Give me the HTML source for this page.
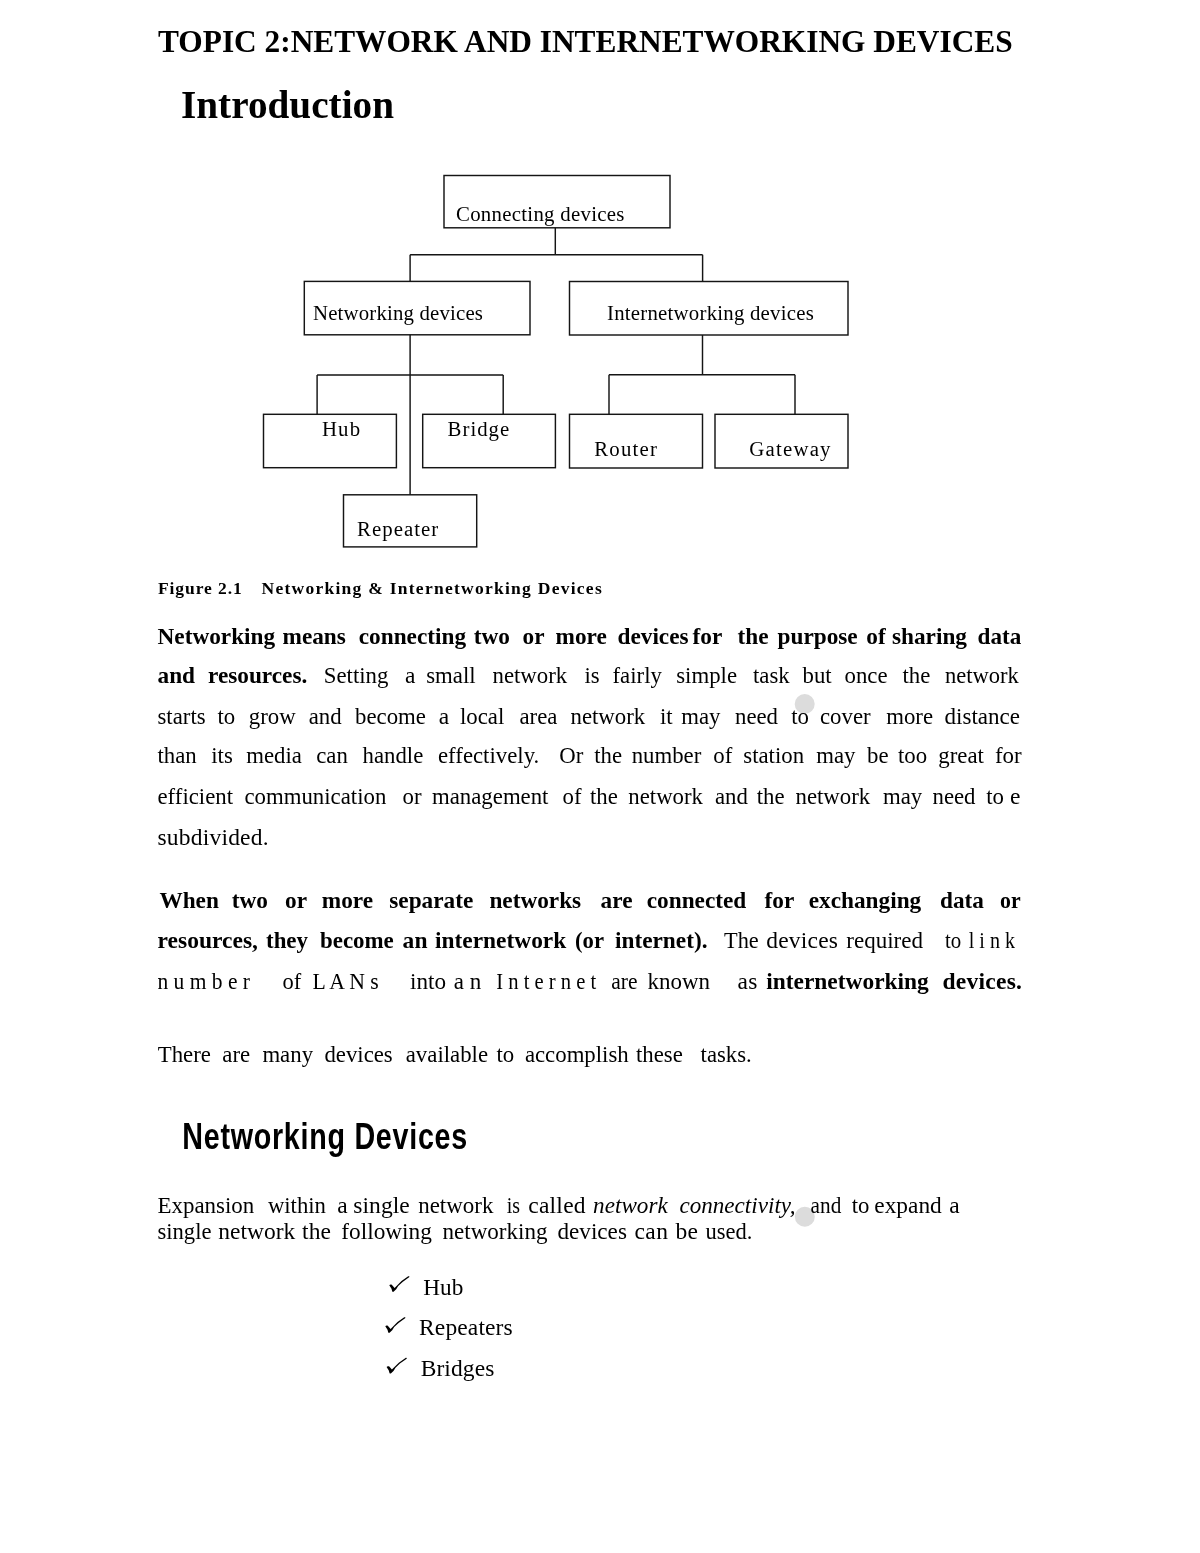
<!DOCTYPE html>
<html><head><meta charset="utf-8"><style>
html,body{margin:0;padding:0;background:#fff;}
body{width:1200px;height:1553px;overflow:hidden;position:relative;}
svg{position:absolute;left:0;top:0;will-change:transform;}
text{font-family:"Liberation Serif",serif;fill:#000;}
</style></head><body>
<svg width="1200" height="1553" viewBox="0 0 1200 1553">
<g fill="none" stroke="#151515" stroke-width="1.45">
<rect x="444" y="175.5" width="226" height="52.3"/>
<rect x="304.3" y="281.4" width="225.7" height="53.4"/>
<rect x="569.5" y="281.5" width="278.5" height="53.5"/>
<rect x="263.5" y="414.3" width="132.9" height="53.4"/>
<rect x="422.7" y="414.3" width="132.7" height="53.4"/>
<rect x="569.5" y="414.3" width="133" height="53.7"/>
<rect x="715" y="414.3" width="133" height="53.7"/>
<rect x="343.5" y="494.8" width="133.2" height="52.1"/>
<path d="M555.3 227.8V254.8M410.1 254.8H702.6M410.1 254.8V281.4M702.6 254.8V281.5
M410.1 334.8V494.8M317.1 374.9H503.2M317.1 374.9V414.3M503.2 374.9V414.3
M702.5 335V374.8M609 374.8H795M609 374.8V414.3M795 374.8V414.3"/>
</g>
<g fill="#dcdcdc"><circle cx="804.7" cy="704" r="10"/><circle cx="804.8" cy="1216.8" r="10"/></g>
<path transform="translate(385,1270)" d="M4.3 15.2C4.8 14.4 6.2 14.2 7 14.9L9.6 17.9L16.5 11L23.2 6.3C23.8 5.9 24.7 6.3 24.4 7L17.6 11.9L13.2 16L11.2 19.2L8.8 21.6C8.2 22.1 7.3 21.9 7.2 21.3L6.5 18.8Z"/>
<path transform="translate(381,1311)" d="M4.3 15.2C4.8 14.4 6.2 14.2 7 14.9L9.6 17.9L16.5 11L23.2 6.3C23.8 5.9 24.7 6.3 24.4 7L17.6 11.9L13.2 16L11.2 19.2L8.8 21.6C8.2 22.1 7.3 21.9 7.2 21.3L6.5 18.8Z"/>
<path transform="translate(382.3,1351.7)" d="M4.3 15.2C4.8 14.4 6.2 14.2 7 14.9L9.6 17.9L16.5 11L23.2 6.3C23.8 5.9 24.7 6.3 24.4 7L17.6 11.9L13.2 16L11.2 19.2L8.8 21.6C8.2 22.1 7.3 21.9 7.2 21.3L6.5 18.8Z"/>
<g>
<text x="158.00" y="52.00" font-size="31.4" font-weight="bold" textLength="854.69" lengthAdjust="spacingAndGlyphs">TOPIC 2:NETWORK AND INTERNETWORKING DEVICES</text>
<text x="181.00" y="118.30" font-size="39.2" font-weight="bold" textLength="213.01" lengthAdjust="spacing">Introduction</text>
<text x="456.00" y="221.10" font-size="20.8" textLength="168.40" lengthAdjust="spacing">Connecting devices</text>
<text x="313.00" y="319.60" font-size="20.8" textLength="169.91" lengthAdjust="spacing">Networking devices</text>
<text x="607.00" y="320.05" font-size="20.8" textLength="206.75" lengthAdjust="spacing">Internetworking devices</text>
<text x="321.90" y="436.00" font-size="20.8" textLength="38.20" lengthAdjust="spacing">Hub</text>
<text x="447.60" y="436.00" font-size="20.8" textLength="61.59" lengthAdjust="spacing">Bridge</text>
<text x="594.25" y="456.30" font-size="20.8" textLength="62.74" lengthAdjust="spacing">Router</text>
<text x="749.25" y="456.30" font-size="20.8" textLength="81.24" lengthAdjust="spacing">Gateway</text>
<text x="357.00" y="535.60" font-size="20.8" textLength="81.30" lengthAdjust="spacing">Repeater</text>
<text x="157.90" y="594.30" font-size="17.5" font-weight="bold" textLength="83.81" lengthAdjust="spacing">Figure 2.1</text>
<text x="261.50" y="594.30" font-size="17.5" font-weight="bold" textLength="340.20" lengthAdjust="spacing">Networking &amp; Internetworking Devices</text>
<text x="157.50" y="643.70" font-size="23.5" font-weight="bold" textLength="117.61" lengthAdjust="spacingAndGlyphs">Networking</text>
<text x="282.50" y="643.70" font-size="23.5" font-weight="bold" textLength="63.33" lengthAdjust="spacingAndGlyphs">means</text>
<text x="358.75" y="643.70" font-size="23.5" font-weight="bold" textLength="107.27" lengthAdjust="spacingAndGlyphs">connecting</text>
<text x="473.75" y="643.70" font-size="23.5" font-weight="bold" textLength="36.18" lengthAdjust="spacingAndGlyphs">two</text>
<text x="522.50" y="643.70" font-size="23.5" font-weight="bold" textLength="21.96" lengthAdjust="spacingAndGlyphs">or</text>
<text x="555.50" y="643.70" font-size="23.5" font-weight="bold" textLength="51.24" lengthAdjust="spacingAndGlyphs">more</text>
<text x="617.50" y="643.70" font-size="23.5" font-weight="bold" textLength="71.07" lengthAdjust="spacingAndGlyphs">devices</text>
<text x="692.50" y="643.70" font-size="23.5" font-weight="bold" textLength="29.71" lengthAdjust="spacingAndGlyphs">for</text>
<text x="737.50" y="643.70" font-size="23.5" font-weight="bold" textLength="31.01" lengthAdjust="spacingAndGlyphs">the</text>
<text x="777.50" y="643.70" font-size="23.5" font-weight="bold" textLength="80.16" lengthAdjust="spacingAndGlyphs">purpose</text>
<text x="866.25" y="643.70" font-size="23.5" font-weight="bold" textLength="19.38" lengthAdjust="spacingAndGlyphs">of</text>
<text x="892.00" y="643.70" font-size="23.5" font-weight="bold" textLength="74.99" lengthAdjust="spacingAndGlyphs">sharing</text>
<text x="977.50" y="643.70" font-size="23.5" font-weight="bold" textLength="43.75" lengthAdjust="spacingAndGlyphs">data</text>
<text x="157.50" y="683.00" font-size="23.5" font-weight="bold" textLength="37.51" lengthAdjust="spacingAndGlyphs">and</text>
<text x="208.00" y="683.00" font-size="23.5" font-weight="bold" textLength="99.28" lengthAdjust="spacingAndGlyphs">resources.</text>
<text x="323.75" y="683.00" font-size="23.5" textLength="64.59" lengthAdjust="spacingAndGlyphs">Setting</text>
<text x="405.00" y="683.00" font-size="23.5">a</text>
<text x="426.25" y="683.00" font-size="23.5" textLength="49.39" lengthAdjust="spacingAndGlyphs">small</text>
<text x="492.50" y="683.00" font-size="23.5" textLength="74.70" lengthAdjust="spacingAndGlyphs">network</text>
<text x="584.50" y="683.00" font-size="23.5" textLength="15.20" lengthAdjust="spacingAndGlyphs">is</text>
<text x="612.50" y="683.00" font-size="23.5" textLength="49.36" lengthAdjust="spacingAndGlyphs">fairly</text>
<text x="676.25" y="683.00" font-size="23.5" textLength="60.78" lengthAdjust="spacingAndGlyphs">simple</text>
<text x="753.00" y="683.00" font-size="23.5" textLength="36.72" lengthAdjust="spacingAndGlyphs">task</text>
<text x="802.50" y="683.00" font-size="23.5" textLength="29.13" lengthAdjust="spacingAndGlyphs">but</text>
<text x="844.50" y="683.00" font-size="23.5" textLength="43.03" lengthAdjust="spacingAndGlyphs">once</text>
<text x="902.50" y="683.00" font-size="23.5" textLength="27.85" lengthAdjust="spacingAndGlyphs">the</text>
<text x="945.00" y="683.00" font-size="23.5" textLength="73.75" lengthAdjust="spacingAndGlyphs">network</text>
<text x="157.50" y="724.00" font-size="23.5" textLength="48.12" lengthAdjust="spacingAndGlyphs">starts</text>
<text x="217.50" y="724.00" font-size="23.5" textLength="17.73" lengthAdjust="spacingAndGlyphs">to</text>
<text x="248.75" y="724.00" font-size="23.5" textLength="46.85" lengthAdjust="spacingAndGlyphs">grow</text>
<text x="308.75" y="724.00" font-size="23.5" textLength="32.91" lengthAdjust="spacingAndGlyphs">and</text>
<text x="355.00" y="724.00" font-size="23.5" textLength="70.88" lengthAdjust="spacingAndGlyphs">become</text>
<text x="438.75" y="724.00" font-size="23.5">a</text>
<text x="460.00" y="724.00" font-size="23.5" textLength="44.30" lengthAdjust="spacingAndGlyphs">local</text>
<text x="519.50" y="724.00" font-size="23.5" textLength="37.94" lengthAdjust="spacingAndGlyphs">area</text>
<text x="570.50" y="724.00" font-size="23.5" textLength="74.70" lengthAdjust="spacingAndGlyphs">network</text>
<text x="660.00" y="724.00" font-size="23.5" textLength="12.67" lengthAdjust="spacingAndGlyphs">it</text>
<text x="681.25" y="724.00" font-size="23.5" textLength="39.25" lengthAdjust="spacingAndGlyphs">may</text>
<text x="735.00" y="724.00" font-size="23.5" textLength="43.03" lengthAdjust="spacingAndGlyphs">need</text>
<text x="791.25" y="724.00" font-size="23.5" textLength="17.73" lengthAdjust="spacingAndGlyphs">to</text>
<text x="820.00" y="724.00" font-size="23.5" textLength="50.62" lengthAdjust="spacingAndGlyphs">cover</text>
<text x="886.25" y="724.00" font-size="23.5" textLength="46.84" lengthAdjust="spacingAndGlyphs">more</text>
<text x="944.50" y="724.00" font-size="23.5" textLength="75.51" lengthAdjust="spacingAndGlyphs">distance</text>
<text x="157.50" y="763.30" font-size="23.5" textLength="39.25" lengthAdjust="spacingAndGlyphs">than</text>
<text x="211.25" y="763.30" font-size="23.5" textLength="21.54" lengthAdjust="spacingAndGlyphs">its</text>
<text x="246.25" y="763.30" font-size="23.5" textLength="55.70" lengthAdjust="spacingAndGlyphs">media</text>
<text x="316.25" y="763.30" font-size="23.5" textLength="31.63" lengthAdjust="spacingAndGlyphs">can</text>
<text x="362.50" y="763.30" font-size="23.5" textLength="60.76" lengthAdjust="spacingAndGlyphs">handle</text>
<text x="438.00" y="763.30" font-size="23.5" textLength="101.25" lengthAdjust="spacingAndGlyphs">effectively.</text>
<text x="559.20" y="763.30" font-size="23.5" textLength="24.05" lengthAdjust="spacingAndGlyphs">Or</text>
<text x="594.20" y="763.30" font-size="23.5" textLength="27.85" lengthAdjust="spacingAndGlyphs">the</text>
<text x="631.70" y="763.30" font-size="23.5" textLength="69.63" lengthAdjust="spacingAndGlyphs">number</text>
<text x="713.30" y="763.30" font-size="23.5" textLength="18.99" lengthAdjust="spacingAndGlyphs">of</text>
<text x="743.30" y="763.30" font-size="23.5" textLength="60.78" lengthAdjust="spacingAndGlyphs">station</text>
<text x="816.25" y="763.30" font-size="23.5" textLength="39.25" lengthAdjust="spacingAndGlyphs">may</text>
<text x="867.00" y="763.30" font-size="23.5" textLength="21.51" lengthAdjust="spacingAndGlyphs">be</text>
<text x="898.00" y="763.30" font-size="23.5" textLength="29.13" lengthAdjust="spacingAndGlyphs">too</text>
<text x="938.30" y="763.30" font-size="23.5" textLength="45.56" lengthAdjust="spacingAndGlyphs">great</text>
<text x="995.00" y="763.30" font-size="23.5" textLength="26.70" lengthAdjust="spacingAndGlyphs">for</text>
<text x="157.50" y="804.40" font-size="23.5" textLength="75.52" lengthAdjust="spacingAndGlyphs">efficient</text>
<text x="244.50" y="804.40" font-size="23.5" textLength="141.80" lengthAdjust="spacingAndGlyphs">communication</text>
<text x="402.50" y="804.40" font-size="23.5" textLength="18.99" lengthAdjust="spacingAndGlyphs">or</text>
<text x="432.00" y="804.40" font-size="23.5" textLength="116.46" lengthAdjust="spacingAndGlyphs">management</text>
<text x="562.50" y="804.40" font-size="23.5" textLength="18.99" lengthAdjust="spacingAndGlyphs">of</text>
<text x="590.00" y="804.40" font-size="23.5" textLength="27.85" lengthAdjust="spacingAndGlyphs">the</text>
<text x="628.30" y="804.40" font-size="23.5" textLength="74.70" lengthAdjust="spacingAndGlyphs">network</text>
<text x="715.00" y="804.40" font-size="23.5" textLength="32.91" lengthAdjust="spacingAndGlyphs">and</text>
<text x="756.70" y="804.40" font-size="23.5" textLength="27.85" lengthAdjust="spacingAndGlyphs">the</text>
<text x="795.50" y="804.40" font-size="23.5" textLength="74.70" lengthAdjust="spacingAndGlyphs">network</text>
<text x="883.00" y="804.40" font-size="23.5" textLength="39.25" lengthAdjust="spacingAndGlyphs">may</text>
<text x="932.50" y="804.40" font-size="23.5" textLength="43.03" lengthAdjust="spacingAndGlyphs">need</text>
<text x="986.25" y="804.40" font-size="23.5" textLength="17.73" lengthAdjust="spacingAndGlyphs">to</text>
<text x="1010.00" y="804.40" font-size="23.5">e</text>
<text x="157.50" y="845.40" font-size="23.5" textLength="111.09" lengthAdjust="spacing">subdivided.</text>
<text x="159.40" y="907.50" font-size="23.5" font-weight="bold" textLength="59.47" lengthAdjust="spacingAndGlyphs">When</text>
<text x="231.75" y="907.50" font-size="23.5" font-weight="bold" textLength="36.18" lengthAdjust="spacingAndGlyphs">two</text>
<text x="285.00" y="907.50" font-size="23.5" font-weight="bold" textLength="21.96" lengthAdjust="spacingAndGlyphs">or</text>
<text x="321.75" y="907.50" font-size="23.5" font-weight="bold" textLength="51.24" lengthAdjust="spacingAndGlyphs">more</text>
<text x="389.25" y="907.50" font-size="23.5" font-weight="bold" textLength="83.98" lengthAdjust="spacingAndGlyphs">separate</text>
<text x="489.40" y="907.50" font-size="23.5" font-weight="bold" textLength="91.77" lengthAdjust="spacingAndGlyphs">networks</text>
<text x="600.60" y="907.50" font-size="23.5" font-weight="bold" textLength="31.86" lengthAdjust="spacingAndGlyphs">are</text>
<text x="646.75" y="907.50" font-size="23.5" font-weight="bold" textLength="99.50" lengthAdjust="spacingAndGlyphs">connected</text>
<text x="764.50" y="907.50" font-size="23.5" font-weight="bold" textLength="29.71" lengthAdjust="spacingAndGlyphs">for</text>
<text x="808.75" y="907.50" font-size="23.5" font-weight="bold" textLength="112.46" lengthAdjust="spacingAndGlyphs">exchanging</text>
<text x="940.00" y="907.50" font-size="23.5" font-weight="bold" textLength="43.95" lengthAdjust="spacingAndGlyphs">data</text>
<text x="1000.00" y="907.50" font-size="23.5" font-weight="bold" textLength="20.60" lengthAdjust="spacingAndGlyphs">or</text>
<text x="157.50" y="948.30" font-size="23.5" font-weight="bold" textLength="100.49" lengthAdjust="spacing">resources,</text>
<text x="266.00" y="948.30" font-size="23.5" font-weight="bold" textLength="42.00" lengthAdjust="spacingAndGlyphs">they</text>
<text x="320.00" y="948.30" font-size="23.5" font-weight="bold" textLength="73.74" lengthAdjust="spacingAndGlyphs">become</text>
<text x="402.50" y="948.30" font-size="23.5" font-weight="bold" textLength="25.00" lengthAdjust="spacing">an</text>
<text x="435.00" y="948.30" font-size="23.5" font-weight="bold" textLength="131.25" lengthAdjust="spacingAndGlyphs">internetwork</text>
<text x="575.00" y="948.30" font-size="23.5" font-weight="bold" textLength="29.00" lengthAdjust="spacingAndGlyphs">(or</text>
<text x="615.00" y="948.30" font-size="23.5" font-weight="bold" textLength="92.49" lengthAdjust="spacingAndGlyphs">internet).</text>
<text x="724.00" y="948.30" font-size="23.5" textLength="34.74" lengthAdjust="spacingAndGlyphs">The</text>
<text x="766.25" y="948.30" font-size="23.5" textLength="71.74" lengthAdjust="spacing">devices</text>
<text x="846.25" y="948.30" font-size="23.5" textLength="76.74" lengthAdjust="spacingAndGlyphs">required</text>
<text x="945.00" y="948.30" font-size="23.5" textLength="16.25" lengthAdjust="spacingAndGlyphs">to</text>
<text x="968.75" y="948.30" font-size="23.5" textLength="46.24" lengthAdjust="spacingAndGlyphs">l i n k</text>
<text x="157.50" y="989.20" font-size="23.5" textLength="92.49" lengthAdjust="spacingAndGlyphs">n u m b e r</text>
<text x="282.50" y="989.20" font-size="23.5" textLength="18.73" lengthAdjust="spacingAndGlyphs">of</text>
<text x="312.50" y="989.20" font-size="23.5" textLength="66.25" lengthAdjust="spacingAndGlyphs">L A N s</text>
<text x="410.00" y="989.20" font-size="23.5" textLength="35.99" lengthAdjust="spacingAndGlyphs">into</text>
<text x="453.75" y="989.20" font-size="23.5" textLength="27.50" lengthAdjust="spacingAndGlyphs">a n</text>
<text x="496.25" y="989.20" font-size="23.5" textLength="100.01" lengthAdjust="spacingAndGlyphs">I n t e r n e t</text>
<text x="611.25" y="989.20" font-size="23.5" textLength="26.24" lengthAdjust="spacingAndGlyphs">are</text>
<text x="647.50" y="989.20" font-size="23.5" textLength="62.50" lengthAdjust="spacingAndGlyphs">known</text>
<text x="737.50" y="989.20" font-size="23.5" textLength="20.00" lengthAdjust="spacing">as</text>
<text x="766.25" y="989.20" font-size="23.5" font-weight="bold" textLength="162.50" lengthAdjust="spacingAndGlyphs">internetworking</text>
<text x="942.50" y="989.20" font-size="23.5" font-weight="bold" textLength="79.49" lengthAdjust="spacing">devices.</text>
<text x="157.75" y="1061.70" font-size="23.5" textLength="53.15" lengthAdjust="spacingAndGlyphs">There</text>
<text x="222.30" y="1061.70" font-size="23.5" textLength="27.83" lengthAdjust="spacingAndGlyphs">are</text>
<text x="262.40" y="1061.70" font-size="23.5" textLength="50.64" lengthAdjust="spacingAndGlyphs">many</text>
<text x="324.40" y="1061.70" font-size="23.5" textLength="68.35" lengthAdjust="spacingAndGlyphs">devices</text>
<text x="405.75" y="1061.70" font-size="23.5" textLength="82.26" lengthAdjust="spacingAndGlyphs">available</text>
<text x="496.50" y="1061.70" font-size="23.5" textLength="17.73" lengthAdjust="spacingAndGlyphs">to</text>
<text x="524.90" y="1061.70" font-size="23.5" textLength="103.81" lengthAdjust="spacingAndGlyphs">accomplish</text>
<text x="636.00" y="1061.70" font-size="23.5" textLength="46.84" lengthAdjust="spacingAndGlyphs">these</text>
<text x="700.60" y="1061.70" font-size="23.5" textLength="51.10" lengthAdjust="spacingAndGlyphs">tasks.</text>
<g transform="scale(0.765,1)"><text x="238.30" y="1149.00" font-size="37.5" font-weight="bold" style="font-family:'Liberation Sans',sans-serif" textLength="372.44" lengthAdjust="spacing">Networking Devices</text></g>
<text x="157.50" y="1212.70" font-size="23.5" textLength="96.69" lengthAdjust="spacingAndGlyphs">Expansion</text>
<text x="267.90" y="1212.70" font-size="23.5" textLength="58.09" lengthAdjust="spacingAndGlyphs">within</text>
<text x="337.20" y="1212.70" font-size="23.5">a</text>
<text x="353.30" y="1212.70" font-size="23.5" textLength="56.39" lengthAdjust="spacing">single</text>
<text x="418.20" y="1212.70" font-size="23.5" textLength="75.20" lengthAdjust="spacingAndGlyphs">network</text>
<text x="506.70" y="1212.70" font-size="23.5" textLength="13.30" lengthAdjust="spacingAndGlyphs">is</text>
<text x="528.20" y="1212.70" font-size="23.5" textLength="57.40" lengthAdjust="spacing">called</text>
<text x="593.10" y="1212.70" font-size="23.5" font-style="italic" textLength="74.64" lengthAdjust="spacingAndGlyphs">network</text>
<text x="679.40" y="1212.70" font-size="23.5" font-style="italic" textLength="116.21" lengthAdjust="spacingAndGlyphs">connectivity,</text>
<text x="810.60" y="1212.70" font-size="23.5" textLength="30.70" lengthAdjust="spacingAndGlyphs">and</text>
<text x="851.80" y="1212.70" font-size="23.5" textLength="17.70" lengthAdjust="spacingAndGlyphs">to</text>
<text x="874.30" y="1212.70" font-size="23.5" textLength="67.49" lengthAdjust="spacingAndGlyphs">expand</text>
<text x="949.30" y="1212.70" font-size="23.5">a</text>
<text x="157.50" y="1239.30" font-size="23.5" textLength="53.99" lengthAdjust="spacingAndGlyphs">single</text>
<text x="218.30" y="1239.30" font-size="23.5" textLength="76.90" lengthAdjust="spacingAndGlyphs">network</text>
<text x="302.00" y="1239.30" font-size="23.5" textLength="28.99" lengthAdjust="spacing">the</text>
<text x="341.30" y="1239.30" font-size="23.5" textLength="90.59" lengthAdjust="spacingAndGlyphs">following</text>
<text x="442.50" y="1239.30" font-size="23.5" textLength="104.99" lengthAdjust="spacingAndGlyphs">networking</text>
<text x="557.50" y="1239.30" font-size="23.5" textLength="69.39" lengthAdjust="spacingAndGlyphs">devices</text>
<text x="634.40" y="1239.30" font-size="23.5" textLength="33.59" lengthAdjust="spacing">can</text>
<text x="675.60" y="1239.30" font-size="23.5" textLength="22.40" lengthAdjust="spacing">be</text>
<text x="705.60" y="1239.30" font-size="23.5" textLength="46.90" lengthAdjust="spacingAndGlyphs">used.</text>
<text x="423.30" y="1294.60" font-size="23.5" textLength="40.00" lengthAdjust="spacingAndGlyphs">Hub</text>
<text x="419.00" y="1335.40" font-size="23.5" textLength="93.71" lengthAdjust="spacing">Repeaters</text>
<text x="420.70" y="1376.30" font-size="23.5" textLength="73.60" lengthAdjust="spacing">Bridges</text>
</g>
</svg>
</body></html>
